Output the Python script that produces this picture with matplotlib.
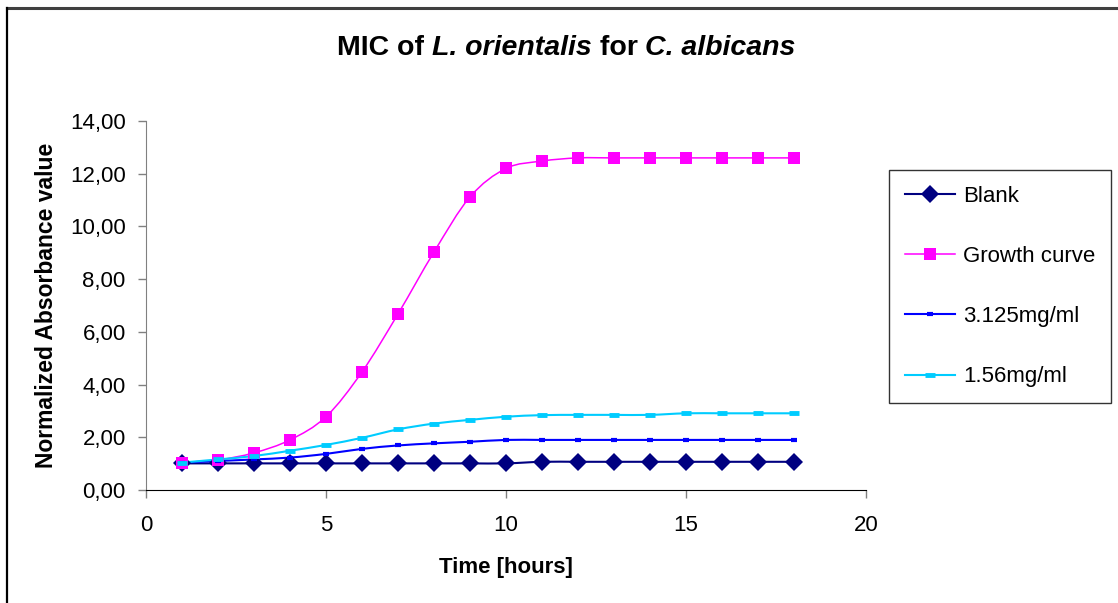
import matplotlib
matplotlib.use("Agg")
import matplotlib.pyplot as plt
import matplotlib.transforms as mtransforms
import numpy as np
from matplotlib.path import Path
from matplotlib.patches import PathPatch
from matplotlib.lines import Line2D
from matplotlib.ticker import FuncFormatter

plt.rcParams['font.family'] = ['Liberation Sans', 'DejaVu Sans']

# Time points (hours)
hours = list(range(1, 19))

# Normalized absorbance per condition
blank = [1.01, 1.01, 1.01, 1.01, 1.01, 1.01, 1.01, 1.01, 1.01, 1.01,
         1.07, 1.07, 1.07, 1.07, 1.07, 1.07, 1.07, 1.07]
growth = [1.04, 1.14, 1.41, 1.90, 2.78, 4.48, 6.68, 9.03, 11.12, 12.20,
          12.48, 12.60, 12.60, 12.60, 12.60, 12.60, 12.60, 12.60]
conc_3125 = [1.04, 1.10, 1.16, 1.23, 1.37, 1.56, 1.69, 1.77, 1.83, 1.90,
             1.90, 1.90, 1.90, 1.90, 1.90, 1.90, 1.90, 1.90]
conc_156 = [1.04, 1.16, 1.29, 1.49, 1.71, 1.98, 2.30, 2.52, 2.66, 2.78,
            2.84, 2.85, 2.85, 2.85, 2.91, 2.91, 2.91, 2.91]

labels = ["Blank", "Growth curve", "3.125mg/ml", "1.56mg/ml"]
colors = ["#000080", "#FF00FF", "#0000FF", "#00CCFF"]

x_ticks = [0, 5, 10, 15, 20]
y_ticks = [0, 2, 4, 6, 8, 10, 12, 14]

# Title pieces: (text, italic?)
title_parts = [("MIC of ", False), ("L. orientalis", True), (" for ", False),
               ("C. albicans", True)]


def smooth_path(xs, ys):
    """Cubic Bezier path through the points (spreadsheet-style smoothing)."""
    pts = np.column_stack([xs, ys]).astype(float)
    n = len(pts)
    verts = [pts[0]]
    codes = [Path.MOVETO]
    for i in range(n - 1):
        p0 = pts[i - 1] if i > 0 else pts[i]
        p1 = pts[i]
        p2 = pts[i + 1]
        p3 = pts[i + 2] if i + 2 < n else pts[i + 1]
        c1 = p1 + (p2 - p0) / 6.0
        c2 = p2 - (p3 - p1) / 6.0
        verts += [c1, c2, p2]
        codes += [Path.CURVE4] * 3
    return Path(verts, codes)


fig = plt.figure(figsize=(11.18, 6.03), dpi=100)
ax = fig.add_axes([146 / 1118, 1 - 490 / 603, 720 / 1118, 369 / 603])

series = [blank, growth, conc_3125, conc_156]
styles = [
    dict(marker="D", ms=8.8, mew=0, lw=1.5),
    dict(marker="s", ms=8.0, mew=0, lw=1.1),
    dict(marker="_", ms=5.0, mew=3.0, lw=1.5),
    dict(marker="_", ms=7.0, mew=3.5, lw=1.5),
]
handles = []
for ys, col, st, lab in zip(series, colors, styles, labels):
    ax.add_patch(PathPatch(smooth_path(hours, ys), fill=False,
                           edgecolor=col, lw=st["lw"], zorder=2))
    ax.plot(hours, ys, linestyle="none", marker=st["marker"],
            ms=st["ms"], mew=st["mew"], color=col, zorder=3)
    handles.append(Line2D([], [], color=col, lw=st["lw"], marker=st["marker"],
                          ms=st["ms"], mew=st["mew"]))

ax.set_xlim(0, 20)
ax.set_ylim(0, 14)
ax.set_xticks(x_ticks)
ax.set_yticks(y_ticks)
ax.yaxis.set_major_formatter(FuncFormatter(lambda v, p: f"{v:.2f}".replace(".", ",")))

for s in ["top", "right"]:
    ax.spines[s].set_visible(False)
ax.spines["left"].set_color("#808080")
ax.spines["bottom"].set_color("black")
ax.tick_params(axis="both", direction="out", length=6, width=1,
               colors="#808080", labelcolor="black", labelsize=16)
ax.tick_params(axis="x", pad=12)
ax.tick_params(axis="y", pad=8.6)

ax.set_xlabel("Time [hours]", fontsize=16, fontweight="bold", labelpad=15)
ax.set_ylabel("Normalized Absorbance value", fontsize=16.5, fontweight="bold",
              labelpad=8.6)

# Title with italic species names, pieces placed left to right
title_texts = []
for txt, ital in title_parts:
    title_texts.append(fig.text(0, 0, txt, fontsize=20.5, fontweight="bold",
                                fontstyle="italic" if ital else "normal",
                                ha="left", va="baseline"))
fig.canvas.draw()
renderer = fig.canvas.get_renderer()
x_px = 337.0
for t in title_texts:
    t.set_transform(mtransforms.IdentityTransform())
    t.set_position((x_px, 603 - 55))
    x_px += t.get_window_extent(renderer).width

leg = fig.legend(handles, labels, loc="upper left",
                 bbox_to_anchor=(889 / 1118, 1 - 170 / 603),
                 frameon=True, fancybox=False, fontsize=16,
                 labelspacing=1.76, handlelength=2.25, handletextpad=0.36,
                 borderpad=0.72, borderaxespad=0)
leg.get_frame().set_edgecolor("black")
leg.get_frame().set_linewidth(1.0)

# Outer chart border (top and left edges)
fig.add_artist(Line2D([7 / 1118, 1], [1 - 8 / 603, 1 - 8 / 603],
                      transform=fig.transFigure, color="#404040", lw=2.2))
fig.add_artist(Line2D([7 / 1118, 7 / 1118], [0, 1 - 8 / 603],
                      transform=fig.transFigure, color="black", lw=1.6))

fig.savefig("out.png", dpi=100)
